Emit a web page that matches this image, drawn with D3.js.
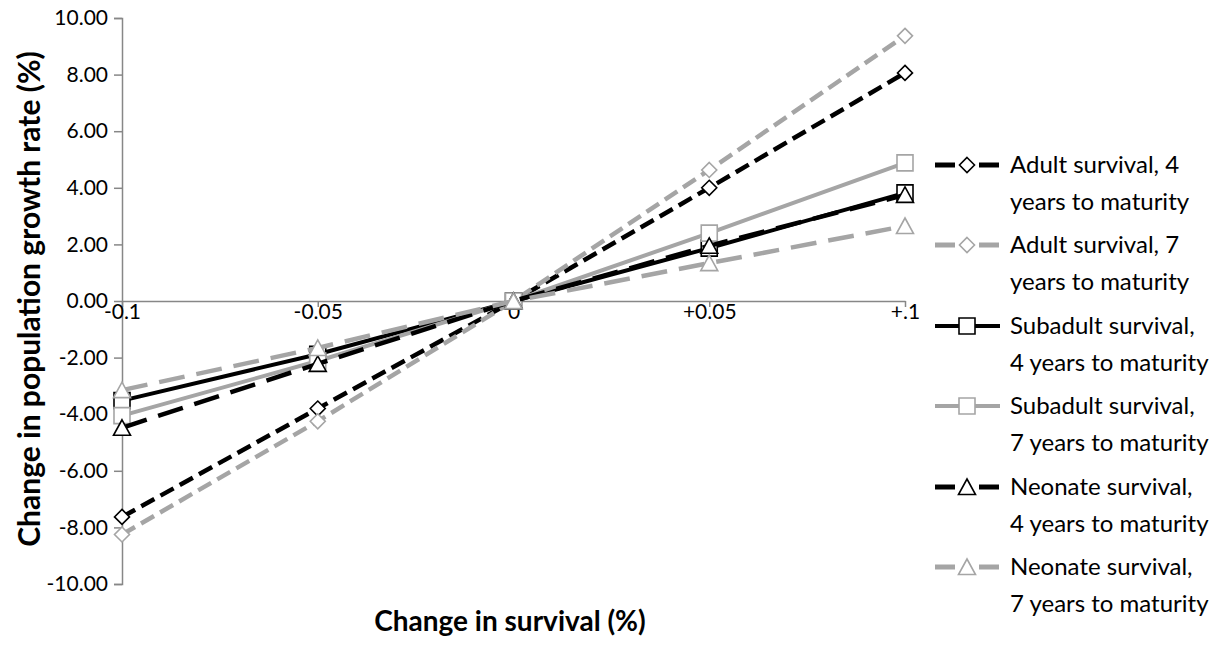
<!DOCTYPE html>
<html><head><meta charset="utf-8">
<script src="https://cdn.jsdelivr.net/npm/d3@7"></script>
<style>body{margin:0;background:#fff;} text{font-family:Lato, "Open Sans", sans-serif;}</style>
</head><body>
<svg id="c" width="1228" height="645"></svg>
<script>
const categories = ["-0.1", "-0.05", "0", "+0.05", "+.1"];
const yTicks = [-10, -8, -6, -4, -2, 0, 2, 4, 6, 8, 10];
const adult4 = [-7.63, -3.8, 0, 4.0, 8.06];
const adult7 = [-8.25, -4.25, 0, 4.63, 9.37];
const subadult4 = [-3.52, -1.88, 0, 1.87, 3.82];
const subadult7 = [-4.05, -2.12, 0, 2.4, 4.88];
const neonate4 = [-4.48, -2.22, 0, 1.95, 3.75];
const neonate7 = [-3.15, -1.66, 0, 1.34, 2.65];
const seriesNames = ["Adult survival, 4|years to maturity", "Adult survival, 7|years to maturity",
  "Subadult survival,|4 years to maturity", "Subadult survival,|7 years to maturity",
  "Neonate survival,|4 years to maturity", "Neonate survival,|7 years to maturity"];

const BLACK = "#000", GRAY = "#a5a5a5";
const series = [
  {name: seriesNames[0], values: adult4, color: BLACK, dash: "15,7", marker: "diamond"},
  {name: seriesNames[1], values: adult7, color: GRAY, dash: "15,7", marker: "diamond"},
  {name: seriesNames[2], values: subadult4, color: BLACK, dash: null, marker: "square"},
  {name: seriesNames[3], values: subadult7, color: GRAY, dash: null, marker: "square"},
  {name: seriesNames[4], values: neonate4, color: BLACK, dash: "26,12", marker: "triangle"},
  {name: seriesNames[5], values: neonate7, color: GRAY, dash: "26,12", marker: "triangle"}
];

const svg = d3.select("#c");
const x = d3.scalePoint().domain(categories).range([122, 905]);
const y = d3.scaleLinear().domain([-10, 10]).range([584, 18]);
const AX = "#878787";

// Y axis
const yAxis = svg.append("g").attr("transform", "translate(122,0)")
  .call(d3.axisLeft(y).tickValues(yTicks).tickSize(8).tickPadding(6).tickFormat(d => d.toFixed(2)));
yAxis.select(".domain").attr("stroke", AX).attr("stroke-width", 1.5);
yAxis.selectAll(".tick line").attr("stroke", AX).attr("stroke-width", 1.5);
yAxis.selectAll(".tick text").attr("font-size", 21).attr("fill", "#000").attr("font-family", "Lato");

// X axis at y=0
const xAxis = svg.append("g").attr("transform", `translate(0,${y(0)})`)
  .call(d3.axisBottom(x).tickSize(6).tickPadding(1).tickSizeOuter(0));
xAxis.select(".domain").attr("stroke", AX).attr("stroke-width", 1.5);
xAxis.selectAll(".tick line").attr("stroke", AX).attr("stroke-width", 1.5);
xAxis.selectAll(".tick text").attr("font-size", 21).attr("fill", "#000").attr("font-family", "Lato")
  .attr("dy", "0.5em");

// Axis titles
svg.append("text").attr("x", 510).attr("y", 631).attr("text-anchor", "middle")
  .attr("font-size", 28).attr("font-weight", "bold").text("Change in survival (%)");
svg.append("text").attr("transform", "translate(40,299) rotate(-90)").attr("text-anchor", "middle")
  .attr("font-size", 30).attr("font-weight", "bold").text("Change in population growth rate (%)");

function markerPath(type) {
  if (type === "diamond") return "M0,-7.5L7.5,0L0,7.5L-7.5,0Z";
  if (type === "square") return "M-8,-8H8V8H-8Z";
  return "M0,-8L8.5,7.5H-8.5Z";
}

const line = d3.line().x((d, i) => x(categories[i])).y(d => y(d));
series.forEach(s => {
  const g = svg.append("g");
  g.append("path").attr("d", line(s.values)).attr("fill", "none")
    .attr("stroke", s.color).attr("stroke-width", s.dash ? 4.5 : 4)
    .attr("stroke-dasharray", s.dash);
  g.selectAll("path.m").data(s.values).enter().append("path").attr("class", "m")
    .attr("d", markerPath(s.marker))
    .attr("transform", (d, i) => `translate(${x(categories[i])},${y(d)})`)
    .attr("fill", "#fff").attr("stroke", s.color).attr("stroke-width", 1.6);
});

// Legend
const legTop = [165, 245, 326, 406, 487, 567];
series.forEach((s, i) => {
  const g = svg.append("g").attr("transform", `translate(0,${legTop[i]})`);
  if (s.dash) {
    g.append("line").attr("x1", 935).attr("x2", 955).attr("y1", 0).attr("y2", 0).attr("stroke", s.color).attr("stroke-width", 5);
    g.append("line").attr("x1", 979).attr("x2", 999).attr("y1", 0).attr("y2", 0).attr("stroke", s.color).attr("stroke-width", 5);
  } else {
    g.append("line").attr("x1", 935).attr("x2", 1000).attr("y1", 0).attr("y2", 0).attr("stroke", s.color).attr("stroke-width", 4);
  }
  g.append("path").attr("d", markerPath(s.marker)).attr("transform", "translate(967,0)")
    .attr("fill", "#fff").attr("stroke", s.color).attr("stroke-width", 1.6);
  const parts = s.name.split("|");
  parts.forEach((p, k) => {
    g.append("text").attr("x", 1010).attr("y", k * 37).attr("dy", "0.35em")
      .attr("font-size", 24).attr("fill", "#000").text(p);
  });
});
</script>
</body></html>
